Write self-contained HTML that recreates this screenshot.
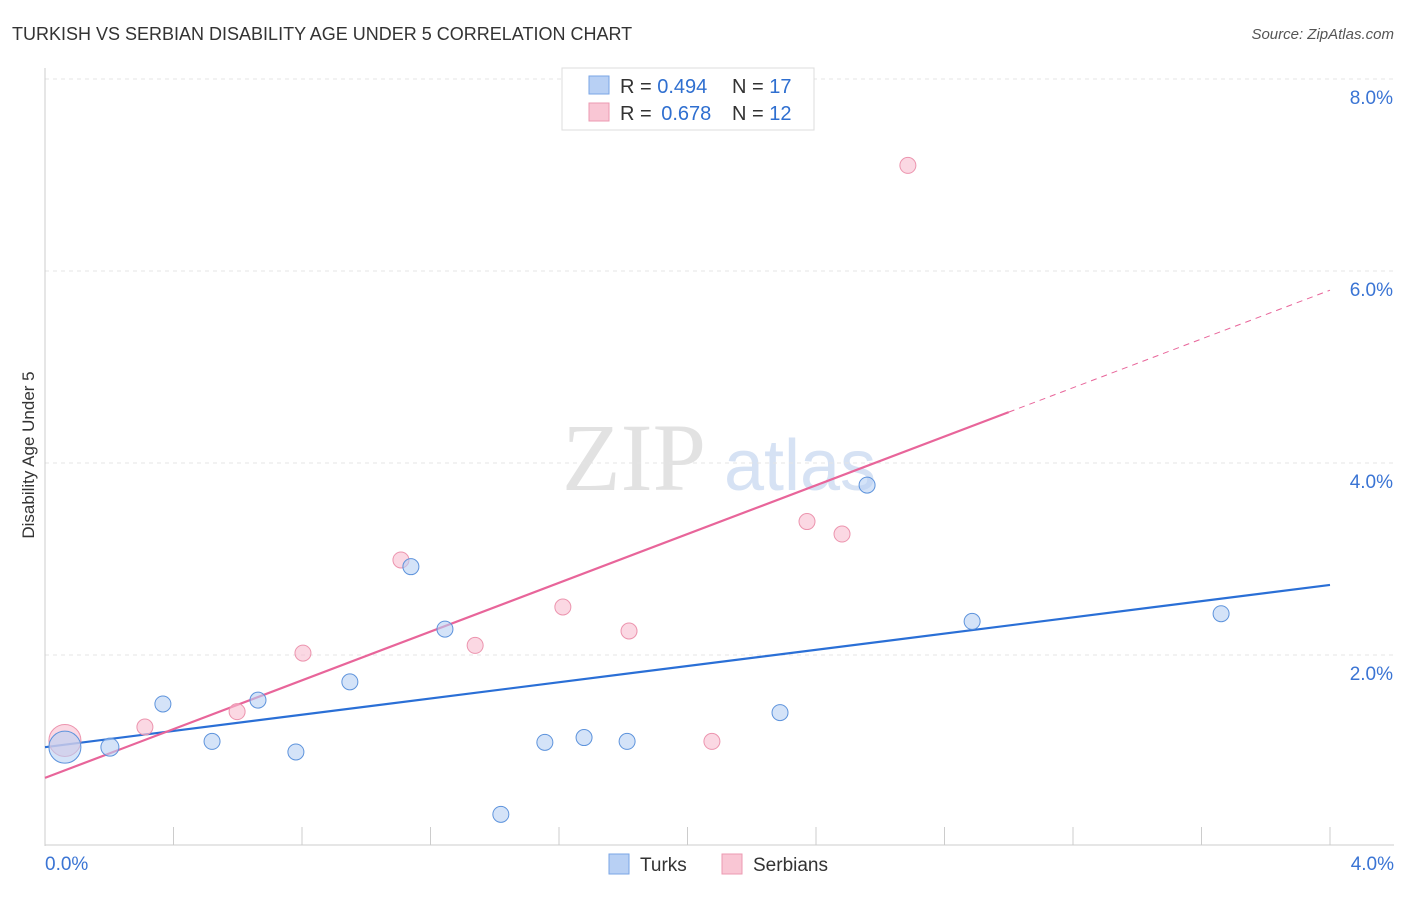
<!DOCTYPE html>
<html><head><meta charset="utf-8"><style>
body{margin:0;background:#fff;font-family:"Liberation Sans",sans-serif;}
svg text{font-family:"Liberation Sans",sans-serif;}
</style></head><body>
<svg id="chart" width="1406" height="892" viewBox="0 0 1406 892">
<text x="12" y="40" font-size="18" fill="#333">TURKISH VS SERBIAN DISABILITY AGE UNDER 5 CORRELATION CHART</text>
<text x="1394" y="39" font-size="15" fill="#555" text-anchor="end" font-style="italic">Source: ZipAtlas.com</text>
<text x="634" y="490" font-size="96" fill="#e2e2e2" text-anchor="middle" font-family="Liberation Serif" style="font-family:'Liberation Serif',serif">ZIP</text>
<text x="800" y="490" font-size="72" fill="#d6e2f4" text-anchor="middle">atlas</text>
<text transform="translate(34,455) rotate(-90)" font-size="17" fill="#333" text-anchor="middle">Disability Age Under 5</text>
<g id="grid"></g><g id="axes"></g><g id="lines"></g><g id="points"></g>
<g>
<rect x="562" y="68" width="252" height="62" fill="#fff" stroke="#ddd"/>
<rect x="589" y="76" width="20" height="18" fill="#b8d0f4" stroke="#7aa6e6"/>
<text x="620" y="93" font-size="20" fill="#333">R = <tspan fill="#2f6fd0">0.494</tspan><tspan x="732">N = </tspan><tspan fill="#2f6fd0">17</tspan></text>
<rect x="589" y="103" width="20" height="18" fill="#f9c6d4" stroke="#ec9ab2"/>
<text x="620" y="120" font-size="20" fill="#333">R = <tspan fill="#2f6fd0" dx="4">0.678</tspan><tspan x="732">N = </tspan><tspan fill="#2f6fd0">12</tspan></text>
</g>
<g>
<rect x="609" y="854" width="20" height="20" fill="#b8d0f4" stroke="#7aa6e6"/>
<text x="640" y="871" font-size="19" fill="#333">Turks</text>
<rect x="722" y="854" width="20" height="20" fill="#f9c6d4" stroke="#ec9ab2"/>
<text x="753" y="871" font-size="19" fill="#333">Serbians</text>
</g>
</svg>
<script>
const turksX=[0.062,0.202,0.367,0.520,0.663,0.781,0.949,1.139,1.245,1.419,1.556,1.678,1.812,2.288,2.559,2.886,3.661];
const turksY=[1.04,1.04,1.49,1.10,1.53,0.99,1.72,2.92,2.27,0.34,1.09,1.14,1.10,1.40,3.77,2.35,2.43];
const turksR=[16,9,8,8,8,8,8,8,8,8,8,8,8,8,8,8,8];
const serbX=[0.062,0.311,0.598,0.803,1.108,1.339,1.612,1.818,2.076,2.372,2.481,2.686];
const serbY=[1.11,1.25,1.41,2.02,2.99,2.10,2.50,2.25,1.10,3.39,3.26,7.10];
const serbR=[16,8,8,8,8,8,8,8,8,8,8,8];
const turksLine=[1.04,2.73];
const serbLine=[0.72,5.80];
const serbSolidEnd=3.0;
const yTicks=[2,4,6,8];
const yTickLabels=["2.0%","4.0%","6.0%","8.0%"];
const xTickLabels=["0.0%","4.0%"];
const NS="http://www.w3.org/2000/svg";
const xs=v=>45+v*321.25, ys=v=>847-v*96;
function mk(tag,attrs,parent){const e=document.createElementNS(NS,tag);for(const k in attrs)e.setAttribute(k,attrs[k]);document.getElementById(parent).appendChild(e);return e;}
yTicks.forEach((t,i)=>{
 const g=mk('line',{x1:45,x2:1394,y1:ys(t),y2:ys(t),stroke:'#e4e4e4','stroke-dasharray':'4,4'},'grid');
 
 
 const tx=mk('text',{x:1393,y:ys(t)+25,'font-size':19,fill:'#3a74d4','text-anchor':'end'},'grid');
 tx.textContent=yTickLabels[i];
 
 
});
const ax=mk('line',{x1:45,x2:45,y1:68,y2:846,stroke:'#ccc'},'axes');


const bx=mk('line',{x1:45,x2:1394,y1:845,y2:845,stroke:'#ccc'},'axes');


for(let i=0;i<=10;i++){const v=i*0.4;const t=mk('line',{x1:xs(v),x2:xs(v),y1:827,y2:845,stroke:'#ccc'},'axes');
 
 }
[[0,'start',45],[4,'end',1394]].forEach((d,i)=>{const t=mk('text',{x:d[2],y:870,'font-size':19,fill:'#3a74d4','text-anchor':d[1]},'axes');t.textContent=xTickLabels[i];
 
 });
const yAt=(l,x)=>l[0]+(l[1]-l[0])*x/4;
const bl=mk('line',{x1:xs(0),y1:ys(yAt(turksLine,0)),x2:xs(4),y2:ys(yAt(turksLine,4)),stroke:'#2a6fd6','stroke-width':2.2},'lines');


const pl=mk('line',{x1:xs(0),y1:ys(yAt(serbLine,0)),x2:xs(serbSolidEnd),y2:ys(yAt(serbLine,serbSolidEnd)),stroke:'#e8659a','stroke-width':2.2},'lines');


const pd=mk('line',{x1:xs(serbSolidEnd),y1:ys(yAt(serbLine,serbSolidEnd)),x2:xs(4),y2:ys(yAt(serbLine,4)),stroke:'#e8659a','stroke-width':1,'stroke-dasharray':'6,5'},'lines');


serbX.forEach((x,i)=>{const c=mk('circle',{cx:xs(x),cy:ys(serbY[i]),r:serbR[i],fill:'rgba(248,190,208,0.6)',stroke:'#ec94ae','stroke-width':1},'points');
 
 });
turksX.forEach((x,i)=>{const c=mk('circle',{cx:xs(x),cy:ys(turksY[i]),r:turksR[i],fill:'rgba(184,208,244,0.6)',stroke:'#5d93dc','stroke-width':1},'points');
 
 });
</script>
</body></html>
